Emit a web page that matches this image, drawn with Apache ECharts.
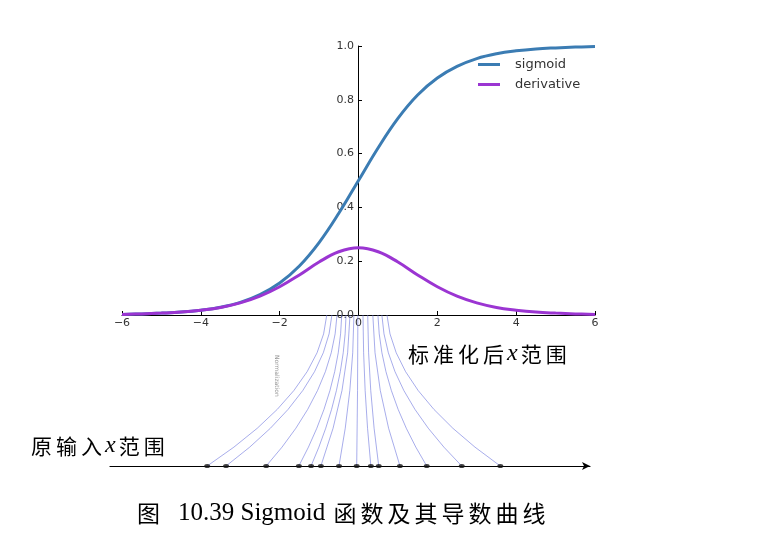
<!DOCTYPE html>
<html>
<head>
<meta charset="UTF-8">
<title>Sigmoid</title>
<style>
  html, body { margin: 0; padding: 0; background: #fff; }
  #main { width: 774px; height: 537px; }
</style>
</head>
<body>
<div id="main"></div>
<script src="https://cdn.jsdelivr.net/npm/echarts@6/dist/echarts.min.js"></script>
<script>
// values
var sampleX = [-6, -5.5, -5, -4.5, -4, -3.5, -3, -2.5, -2, -1.5, -1, -0.5, 0,
               0.5, 1, 1.5, 2, 2.5, 3, 3.5, 4, 4.5, 5, 5.5, 6];
var sigmoidVals = [0.002, 0.004, 0.007, 0.011, 0.018, 0.029, 0.047, 0.076, 0.119, 0.182, 0.269, 0.378, 0.500,
                   0.622, 0.731, 0.818, 0.881, 0.924, 0.953, 0.971, 0.982, 0.989, 0.993, 0.996, 0.998];
var derivVals = [0.002, 0.004, 0.007, 0.011, 0.018, 0.028, 0.045, 0.070, 0.105, 0.149, 0.197, 0.235, 0.250,
                 0.235, 0.197, 0.149, 0.105, 0.070, 0.045, 0.028, 0.018, 0.011, 0.007, 0.004, 0.002];
// original x (dots on the lower axis) and where each lands after normalization
var rawX = [-3.83, -3.35, -2.33, -1.50, -1.19, -0.94, -0.48, -0.03, 0.33, 0.53, 1.07, 1.75, 2.64, 3.62];
var normX = [-0.79, -0.66, -0.53, -0.41, -0.30, -0.20, -0.10, 0.00, 0.13, 0.25, 0.38, 0.51, 0.61, 0.74];
var xTicks = [-6, -4, -2, 0, 2, 4, 6];

var chart = echarts.init(document.getElementById('main'));

function pairs(xs, ys) {
  return xs.map(function (x, i) { return [x, ys[i]]; });
}

var sansFont = 'DejaVu Sans';

// spaced-out CJK label, x in italic serif
function spaced(str) {
  return str.split('').map(function (ch) {
    return ch === 'x' ? '{i|x}' : '{c|' + ch + '}';
  }).join('');
}
var labelRich = {
  c: { fontFamily: 'Noto Sans CJK SC', fontSize: 21, color: '#111', padding: [0, 2, 0, 2] },
  i: { fontFamily: 'Liberation Serif', fontStyle: 'italic', fontSize: 24, color: '#111', padding: [0, 1, 0, 1] }
};

function renderFan(params, api) {
  var xb = api.value(0);
  var xt = api.value(1);
  var p0 = api.coord([xb, 0]);
  var p1 = api.coord([xt, 1]);
  var cp = api.coord([xt + (xb - xt) * 0.05, 0.5]);
  return {
    type: 'bezierCurve',
    shape: { x1: p0[0], y1: p0[1], x2: p1[0], y2: p1[1], cpx1: cp[0], cpy1: cp[1] },
    style: { stroke: 'rgba(110,118,222,0.6)', lineWidth: 1, fill: null }
  };
}

var captionTail = '函数及其导数曲线'.split('').map(function (ch) { return '{d|' + ch + '}'; }).join('');

var option = {
  animation: false,
  grid: [
    { left: 122, right: 179, top: 46, bottom: 222 },
    { left: 110, right: 184, top: 315, bottom: 71 }
  ],
  xAxis: [{
    gridIndex: 0, type: 'value', min: -6, max: 6, interval: 2,
    axisLine: { lineStyle: { color: '#000', width: 1 } },
    axisTick: { inside: true, length: 4, lineStyle: { color: '#000' } },
    axisLabel: {
      margin: 3, color: '#333', fontSize: 11, fontFamily: sansFont,
      formatter: function (v) { return xTicks.indexOf(v) < 0 ? '' : String(v).replace('-', '\u2212'); }
    },
    splitLine: { show: false }
  }, {
    gridIndex: 1, type: 'value', min: -6.3, max: 5.9,
    axisLine: { symbol: ['none', 'arrow'], symbolSize: [6, 8], lineStyle: { color: '#000', width: 1.2 } },
    axisTick: { show: false },
    axisLabel: { show: false },
    splitLine: { show: false }
  }],
  yAxis: [{
    gridIndex: 0, type: 'value', min: 0, max: 1, interval: 0.2,
    position: 'left', offset: -236,
    axisLine: { show: true, onZero: false, lineStyle: { color: '#000', width: 1 } },
    axisTick: { show: true, inside: true, length: 4, lineStyle: { color: '#000' } },
    axisLabel: {
      margin: 4, color: '#333', fontSize: 11, fontFamily: sansFont,
      formatter: function (v) { return v.toFixed(1); }
    },
    splitLine: { show: false }
  }, {
    gridIndex: 1, type: 'value', min: 0, max: 1, show: false
  }],
  legend: {
    orient: 'vertical', left: 473, top: 53,
    icon: 'rect', itemWidth: 22, itemHeight: 3, itemGap: 7,
    textStyle: { color: '#333', fontSize: 13, fontFamily: sansFont, padding: [0, 0, 0, 10] },
    data: ['sigmoid', 'derivative']
  },
  series: [{
    name: 'sigmoid', type: 'line', xAxisIndex: 0, yAxisIndex: 0,
    data: pairs(sampleX, sigmoidVals), smooth: 0.4, showSymbol: false,
    lineStyle: { color: '#3b7cb3', width: 3 }, itemStyle: { color: '#3b7cb3' }
  }, {
    name: 'derivative', type: 'line', xAxisIndex: 0, yAxisIndex: 0,
    data: pairs(sampleX, derivVals), smooth: 0.4, showSymbol: false,
    lineStyle: { color: '#9b35d2', width: 3 }, itemStyle: { color: '#9b35d2' }
  }, {
    name: 'fan', type: 'custom', xAxisIndex: 1, yAxisIndex: 1,
    renderItem: renderFan, encode: { x: [0, 1] }, silent: true,
    data: pairs(rawX, normX)
  }, {
    name: 'raw', type: 'scatter', xAxisIndex: 1, yAxisIndex: 1,
    symbol: 'circle', symbolSize: [6, 4], silent: true,
    itemStyle: { color: '#111' },
    data: rawX.map(function (x) { return [x, 0]; })
  }],
  graphic: [{
    type: 'text', left: 408, top: 342,
    style: { text: spaced('标准化后x范围'), rich: labelRich }
  }, {
    type: 'text', left: 31, top: 434,
    style: { text: spaced('原输入x范围'), rich: labelRich }
  }, {
    type: 'text', x: 277, y: 355, rotation: -Math.PI / 2,
    style: { text: 'Normalization', fontSize: 6, fontFamily: sansFont, fill: '#999', align: 'left', verticalAlign: 'middle' }
  }, {
    type: 'text', left: 137, top: 501,
    style: {
      text: '{c|图}{g| }{s|10.39 Sigmoid }' + captionTail,
      rich: {
        c: { fontFamily: 'Noto Sans CJK SC', fontSize: 23, color: '#111' },
        g: { fontSize: 23, width: 18 },
        s: { fontFamily: 'Liberation Serif', fontSize: 25, color: '#111' },
        d: { fontFamily: 'Noto Sans CJK SC', fontSize: 23, color: '#111', padding: [0, 2, 0, 2] }
      }
    }
  }]
};

chart.setOption(option);
</script>
</body>
</html>
